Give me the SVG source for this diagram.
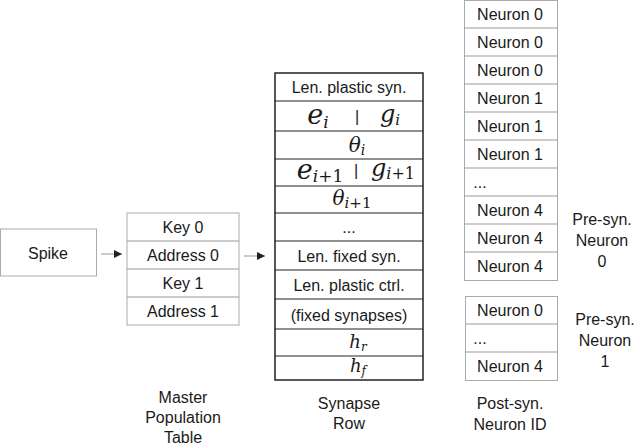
<svg xmlns="http://www.w3.org/2000/svg" width="640" height="446" viewBox="0 0 640 446">
<defs>
<style>
text{font-family:"Liberation Sans",Arial,sans-serif;font-size:16px;fill:#1a1a1a;text-anchor:middle}
.m{font-family:"DejaVu Serif","Liberation Serif",serif;font-style:italic}
.g{fill:#fff;stroke:#aaa;stroke-width:1}
.k{fill:#fff;stroke:#222;stroke-width:1.5}
.l{stroke:#999;stroke-width:1}
.kl{stroke:#222;stroke-width:1}
</style>
<marker id="a" viewBox="0 0 10 10" refX="10" refY="5" markerWidth="10" markerHeight="8" orient="auto" markerUnits="userSpaceOnUse"><path d="M0,0L10,5L0,10z" fill="#222"/></marker>
</defs>
<g id="spike"><rect class="g" x="0.5" y="229" width="96" height="47"/><text x="48" y="259">Spike</text></g>
<g id="master">
<rect class="g" x="127" y="213" width="112" height="112"/>
<line class="l" x1="127" y1="241" x2="239" y2="241"/><line class="l" x1="127" y1="269" x2="239" y2="269"/><line class="l" x1="127" y1="297" x2="239" y2="297"/>
<text x="183" y="233">Key 0</text><text x="183" y="261">Address 0</text><text x="183" y="289">Key 1</text><text x="183" y="317">Address 1</text>
<text x="183" y="403">Master</text><text x="183" y="423">Population</text><text x="183" y="443">Table</text>
</g>
<g id="synrow">
<rect class="k" x="275" y="73" width="148" height="307"/>
<g class="kl"><line x1="275" y1="101" x2="423" y2="101"/><line x1="275" y1="131" x2="423" y2="131"/><line x1="275" y1="159" x2="423" y2="159"/><line x1="275" y1="186" x2="423" y2="186"/><line x1="275" y1="213" x2="423" y2="213"/><line x1="275" y1="241" x2="423" y2="241"/><line x1="275" y1="270" x2="423" y2="270"/><line x1="275" y1="299" x2="423" y2="299"/><line x1="275" y1="329" x2="423" y2="329"/><line x1="275" y1="356" x2="423" y2="356"/></g>
<text x="349" y="93">Len. plastic syn.</text>
<text x="318" y="124" class="m" style="font-size:27px">e<tspan style="font-size:17px" dy="4">i</tspan></text>
<text x="357" y="122">|</text>
<text x="390" y="122" class="m" style="font-size:24px">g<tspan style="font-size:15px" dy="3">i</tspan></text>
<text x="357" y="152" class="m" style="font-size:20px">θ<tspan style="font-size:14px" dy="3">i</tspan></text>
<text x="320" y="179" class="m" style="font-size:27px">e<tspan style="font-size:17px;font-style:normal" dy="3"><tspan class="m">i</tspan>+1</tspan></text>
<text x="356" y="176">|</text>
<text x="393" y="176" class="m" style="font-size:24px">g<tspan style="font-size:16px;font-style:normal" dy="3"><tspan class="m">i</tspan>+1</tspan></text>
<text x="352" y="205" class="m" style="font-size:20px">θ<tspan style="font-size:15px;font-style:normal" dy="3"><tspan class="m">i</tspan>+1</tspan></text>
<text x="349" y="233">...</text>
<text x="349" y="262">Len. fixed syn.</text>
<text x="349" y="291">Len. plastic ctrl.</text>
<text x="349" y="321">(fixed synapses)</text>
<text x="358" y="348" class="m" style="font-size:18px">h<tspan style="font-size:12px" dy="3">r</tspan></text>
<text x="358" y="372" class="m" style="font-size:18px">h<tspan style="font-size:12px" dy="3">f</tspan></text>
<text x="349" y="409">Synapse</text><text x="349" y="429">Row</text>
</g>
<g id="neurons0">
<rect class="g" x="464.5" y="0.5" width="93" height="280"/>
<g class="l"><line x1="464" y1="28" x2="557" y2="28"/><line x1="464" y1="56" x2="557" y2="56"/><line x1="464" y1="84" x2="557" y2="84"/><line x1="464" y1="112" x2="557" y2="112"/><line x1="464" y1="140" x2="557" y2="140"/><line x1="464" y1="168" x2="557" y2="168"/><line x1="464" y1="196" x2="557" y2="196"/><line x1="464" y1="224" x2="557" y2="224"/><line x1="464" y1="252" x2="557" y2="252"/></g>
<text x="510" y="20">Neuron 0</text><text x="510" y="48">Neuron 0</text><text x="510" y="76">Neuron 0</text><text x="510" y="104">Neuron 1</text><text x="510" y="132">Neuron 1</text><text x="510" y="160">Neuron 1</text><text x="480" y="188">...</text><text x="510" y="216">Neuron 4</text><text x="510" y="244">Neuron 4</text><text x="510" y="272">Neuron 4</text>
<text x="602" y="225">Pre-syn.</text><text x="602" y="246">Neuron</text><text x="602" y="267">0</text>
</g>
<g id="neurons1">
<rect class="g" x="465.5" y="296.5" width="92" height="84"/>
<line class="l" x1="465" y1="324" x2="557" y2="324"/><line class="l" x1="465" y1="352" x2="557" y2="352"/>
<text x="510" y="316">Neuron 0</text><text x="480" y="344">...</text><text x="510" y="372">Neuron 4</text>
<text x="605" y="325">Pre-syn.</text><text x="605" y="346">Neuron</text><text x="605" y="367">1</text>
<text x="510" y="409">Post-syn.</text><text x="510" y="430">Neuron ID</text>
</g>
<g id="connectors">
<line x1="101" y1="254" x2="122" y2="254" stroke="#999" marker-end="url(#a)"/>
<line x1="244" y1="256" x2="265" y2="256" stroke="#999" marker-end="url(#a)"/>
</g>
</svg>
